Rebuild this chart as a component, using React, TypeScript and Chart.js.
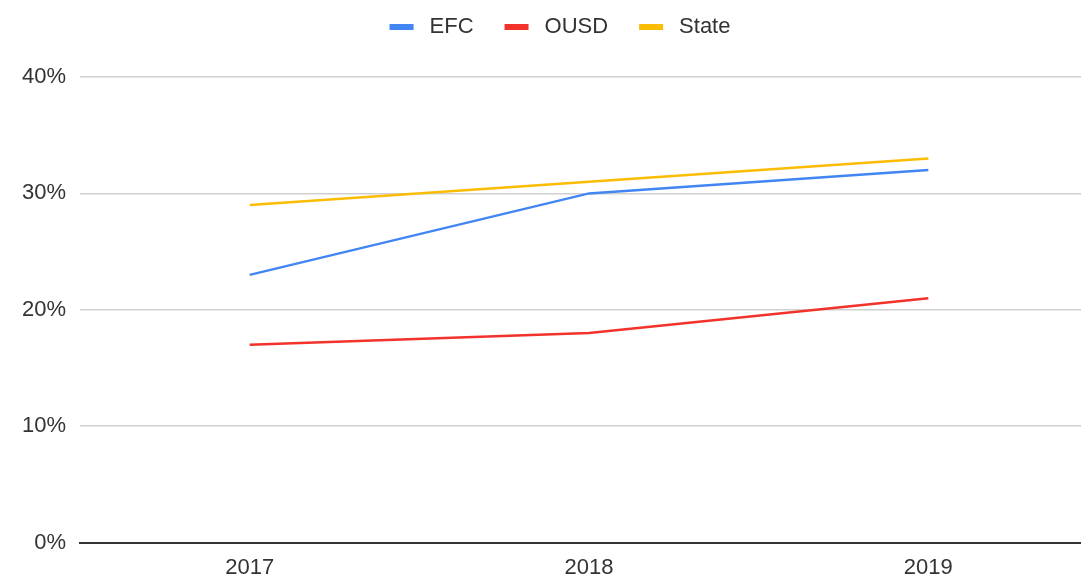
import React, { useEffect, useRef } from "react";
import { Chart, registerables } from "chart.js";

Chart.register(...registerables);

const years = ["2017", "2018", "2019"];
const efc = [23, 30, 32];
const ousd = [17, 18, 21];
const state = [29, 31, 33];
const yTicks = [0, 10, 20, 30, 40];

const FONT = "'Liberation Sans', Arial, sans-serif";

const legendPlugin = {
  id: "topLegend",
  afterDraw(chart: any) {
    const ctx = chart.ctx;
    ctx.save();
    ctx.font = `22px ${FONT}`;
    ctx.textBaseline = "middle";
    const box = 24, gapBox = 16, gapItem = 31;
    const items = chart.data.datasets.map((d: any) => ({
      label: d.label,
      color: d.borderColor,
      w: ctx.measureText(d.label).width,
    }));
    const total = items.reduce((s: number, it: any) => s + box + gapBox + it.w, 0) + gapItem * (items.length - 1);
    let x = 560 - total / 2;
    const y = 27;
    for (const it of items) {
      ctx.fillStyle = it.color;
      ctx.fillRect(x, y - 3, box, 6);
      x += box + gapBox;
      ctx.fillStyle = "#333";
      ctx.fillText(it.label, x, y);
      x += it.w + gapItem;
    }
    ctx.restore();
  },
};

export default function App() {
  const ref = useRef<HTMLCanvasElement | null>(null);
  useEffect(() => {
    if (!ref.current) return;
    const chart = new Chart(ref.current, {
      type: "line",
      data: {
        labels: years,
        datasets: [
          { label: "EFC", data: efc, borderColor: "#4285f4", backgroundColor: "#4285f4", borderWidth: 2.5, pointRadius: 0, tension: 0 },
          { label: "OUSD", data: ousd, borderColor: "#f2322b", backgroundColor: "#f2322b", borderWidth: 2.5, pointRadius: 0, tension: 0 },
          { label: "State", data: state, borderColor: "#fbbc04", backgroundColor: "#fbbc04", borderWidth: 2.5, pointRadius: 0, tension: 0 },
        ],
      },
      plugins: [legendPlugin],
      options: {
        responsive: false,
        animation: false,
        layout: { padding: { left: 8, right: 22, top: 77, bottom: 0 } },
        plugins: {
          tooltip: { enabled: false },
          legend: { display: false },
        },
        scales: {
          x: {
            offset: true,
            grid: { display: false, drawTicks: false },
            border: { display: true, color: "#333", width: 2 },
            ticks: { color: "#333", font: { family: FONT, size: 22 }, padding: 12, maxRotation: 0 },
          },
          y: {
            min: 0,
            max: 40,
            afterBuildTicks: (axis: any) => {
              axis.ticks = yTicks.map((v) => ({ value: v }));
            },
            grid: { color: "#d0d0d0", lineWidth: 1.5, drawTicks: false },
            border: { display: false },
            ticks: {
              color: "#333",
              font: { family: FONT, size: 22 },
              padding: 14,
              callback: (v: any) => v + "%",
            },
          },
        },
      },
    });
    return () => chart.destroy();
  }, []);
  return (
    <div style={{ position: "fixed", left: 0, top: 0, width: 1081, height: 580, overflow: "hidden", background: "#fff" }}>
      <canvas ref={ref} width={1120} height={593} style={{ display: "block" }} />
    </div>
  );
}
